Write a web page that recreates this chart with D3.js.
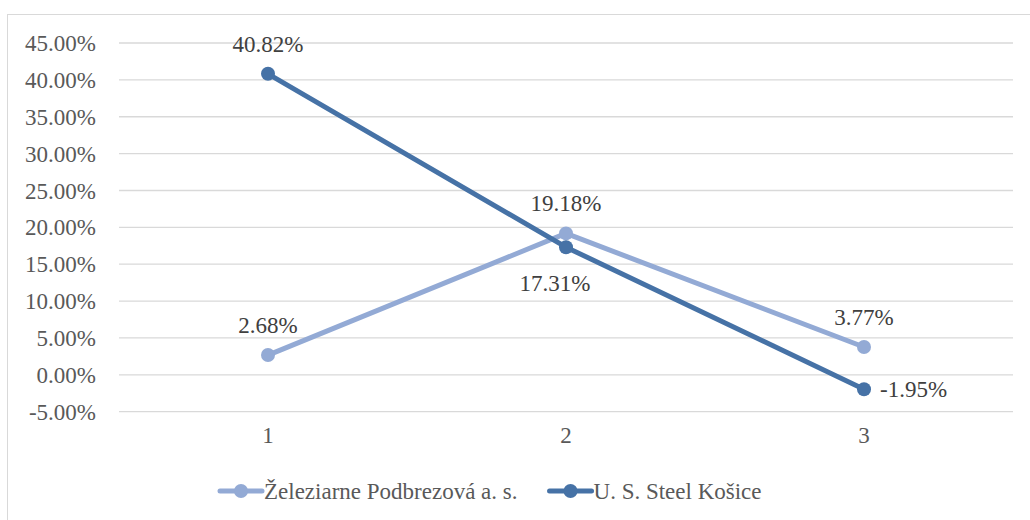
<!DOCTYPE html>
<html>
<head>
<meta charset="utf-8">
<script src="https://cdn.jsdelivr.net/npm/d3@7"></script>
</head>
<body style="margin:0">
<svg id="chart" width="1030" height="520"></svg>
<script>
// chart data
var categories = ["1", "2", "3"];
var seriesNames = ["Železiarne Podbrezová a. s.", "U. S. Steel Košice"];
var podbrezova = [2.68, 19.18, 3.77];
var usSteel = [40.82, 17.31, -1.95];
var yTicks = [-5, 0, 5, 10, 15, 20, 25, 30, 35, 40, 45];

var colors = ["#93aad5", "#4672a6"];
// where each data label goes relative to its point
var labelPos = [["above", "above", "above"], ["above", "below", "right"]];
var fontSize = 23;
var fontFam = "'Liberation Serif', 'Times New Roman', Tinos, serif";

var svg = d3.select("#chart");

function serifText(sel) {
    sel.attr("font-size", fontSize)
        .attr("font-family", fontFam)
        .style("font-family", fontFam, "important");
}

// chart border
svg.append("rect")
    .attr("x", 7.5).attr("y", 14.5)
    .attr("width", 1030).attr("height", 520)
    .attr("fill", "none").attr("stroke", "#d9d9d9");

var plot = {left: 119, right: 1013, top: 43, bottom: 411.7};

var x = d3.scaleBand()
    .domain(categories)
    .range([plot.left, plot.right]);

var y = d3.scaleLinear()
    .domain([-5, 45])
    .range([plot.bottom, plot.top]);

// gridlines
svg.append("g").selectAll("line")
    .data(yTicks)
    .enter().append("line")
    .attr("x1", plot.left).attr("x2", plot.right)
    .attr("y1", function (d) { return y(d); })
    .attr("y2", function (d) { return y(d); })
    .attr("stroke", "#d9d9d9").attr("stroke-width", 1.3);

// y axis labels
var yAxis = d3.axisLeft(y)
    .tickValues(yTicks)
    .tickSize(0).tickPadding(0)
    .tickFormat(function (d) { return d.toFixed(2) + "%"; });
var gy = svg.append("g")
    .attr("transform", "translate(96,0)")
    .call(yAxis);
gy.select(".domain").remove();
gy.selectAll("text").call(serifText)
    .attr("dy", "0.33em").attr("fill", "#595959");

// x axis labels
var xAxis = d3.axisBottom(x).tickSize(0).tickPadding(0);
var gx = svg.append("g")
    .attr("transform", "translate(0,427)")
    .call(xAxis);
gx.select(".domain").remove();
gx.selectAll("text").call(serifText).attr("fill", "#595959");

var allSeries = [podbrezova, usSteel];

var line = d3.line()
    .x(function (d, i) { return x(categories[i]) + x.bandwidth() / 2; })
    .y(function (d) { return y(d); });

allSeries.forEach(function (values, s) {
    var g = svg.append("g");
    g.append("path")
        .datum(values)
        .attr("d", line)
        .attr("fill", "none")
        .attr("stroke", colors[s])
        .attr("stroke-width", 5)
        .attr("stroke-linejoin", "round");
    g.selectAll("circle")
        .data(values)
        .enter().append("circle")
        .attr("cx", function (d, i) { return x(categories[i]) + x.bandwidth() / 2; })
        .attr("cy", function (d) { return y(d); })
        .attr("r", 7)
        .attr("fill", colors[s]);
});

// data labels
allSeries.forEach(function (values, s) {
    svg.append("g").selectAll("text")
        .data(values)
        .enter().append("text")
        .call(serifText)
        .attr("fill", "#404040")
        .attr("x", function (d, i) {
            var cx = x(categories[i]) + x.bandwidth() / 2;
            if (labelPos[s][i] === "right") return cx + 16;
            if (labelPos[s][i] === "below") return cx - 11;
            return cx;
        })
        .attr("y", function (d, i) {
            var cy = y(d);
            if (labelPos[s][i] === "above") return cy - 22;
            if (labelPos[s][i] === "below") return cy + 44;
            return cy + 8;
        })
        .attr("text-anchor", function (d, i) {
            return labelPos[s][i] === "right" ? "start" : "middle";
        })
        .text(function (d) { return d.toFixed(2) + "%"; });
});

// legend - second entry placed after the first one's text
var legend = svg.append("g").selectAll("g")
    .data(seriesNames)
    .enter().append("g");
legend.append("line")
    .attr("x1", 0).attr("x2", 42)
    .attr("stroke", function (d, i) { return colors[i]; })
    .attr("stroke-width", 5).attr("stroke-linecap", "round");
legend.append("circle")
    .attr("cx", 21).attr("r", 7)
    .attr("fill", function (d, i) { return colors[i]; });
legend.append("text")
    .call(serifText)
    .attr("x", 44).attr("dy", "0.33em")
    .attr("fill", "#595959")
    .text(function (d) { return d; });

var lx = 220;
legend.each(function () {
    var item = d3.select(this);
    item.attr("transform", "translate(" + lx + ",491)");
    lx += 44 + item.select("text").node().getComputedTextLength() + 32;
});
</script>
</body>
</html>
